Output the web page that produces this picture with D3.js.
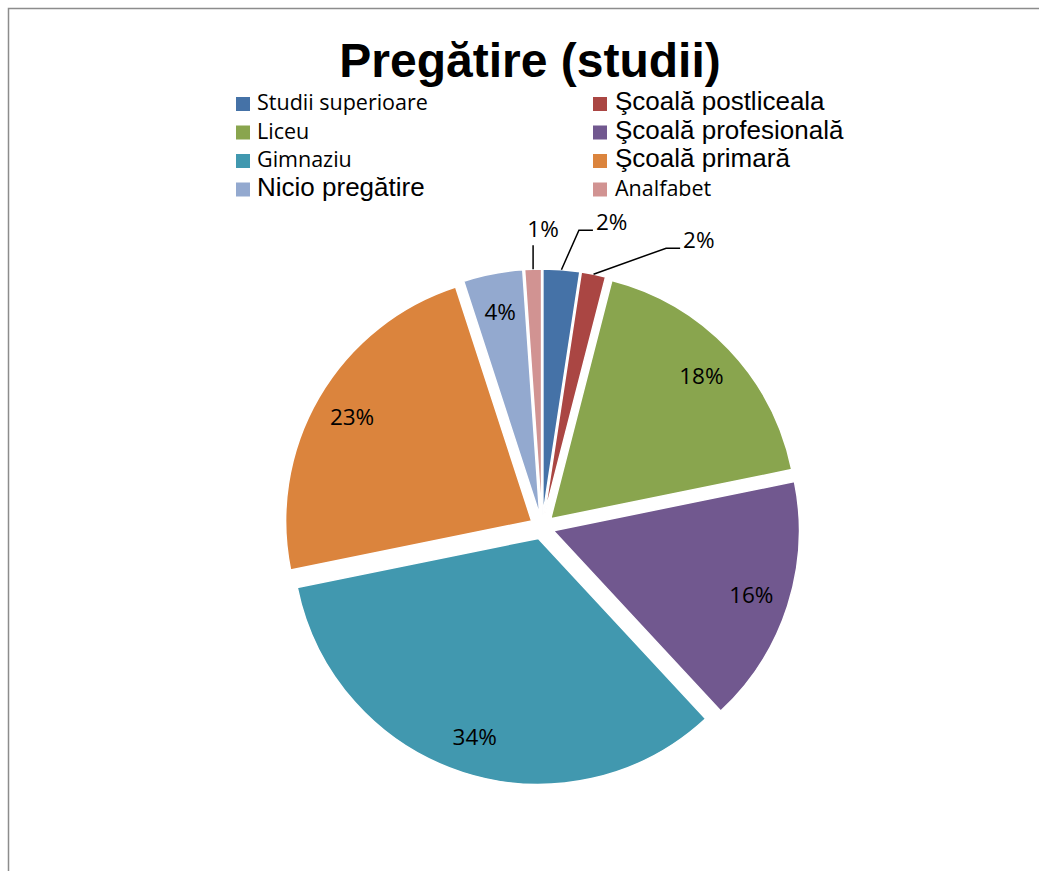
<!DOCTYPE html>
<html>
<head>
<meta charset="utf-8">
<script src="https://cdn.jsdelivr.net/npm/d3@7"></script>
<style>
  html, body { margin: 0; padding: 0; background: #fff; }
  svg { display: block; }
</style>
</head>
<body>
<div id="chart"></div>
<script>
// values (percent of total)
const categories = ['Studii superioare', 'Şcoală postliceala', 'Liceu', 'Şcoală profesională',
  'Gimnaziu', 'Şcoală primară', 'Nicio pregătire', 'Analfabet'];
const values = [2.4, 1.6, 17.8, 16.3, 33.7, 23.2, 3.9, 1.1];
const colors = ['#4572A7', '#AA4643', '#89A54E', '#71588F', '#4198AF', '#DB843D', '#93A9CF', '#D19392'];

// legend entries that were typed in a different (larger) font in the original
const bigLegend = [false, true, false, true, false, true, true, false];

// manually dragged data labels: offset from the slice's outer edge
const outsideLabels = {
  0: {dx: 34.5, dy: -39.6, type: 'side'},
  1: {dx: 89.6, dy: -26, type: 'side'},
  7: {dx: 10, dy: -32, type: 'above'}
};

const width = 1039, height = 871;
const cx = 542, cy = 527, radius = 246, explode = 12;

const svg = d3.select('#chart').append('svg')
  .attr('width', width)
  .attr('height', height);

// chart frame (only top/left edges visible)
svg.append('rect')
  .attr('x', 8.5).attr('y', 8.5)
  .attr('width', 1100).attr('height', 1000)
  .attr('fill', 'none')
  .attr('stroke', '#8c8c8c')
  .attr('stroke-width', 1.5);

svg.append('text')
  .attr('x', 530).attr('y', 77)
  .attr('text-anchor', 'middle')
  .style('font-family', '"Liberation Sans", Arial, sans-serif')
  .style('font-weight', 'bold')
  .style('font-size', '48px')
  .text('Pregătire (studii)');

// legend, two columns filled row by row
const legend = svg.append('g');
categories.forEach((name, i) => {
  const col = i % 2, row = Math.floor(i / 2);
  const x = col === 0 ? 236 : 593;
  const base = 110 + row * 28.5;
  legend.append('rect')
    .attr('x', x).attr('y', base - 13)
    .attr('width', 14).attr('height', 14)
    .attr('fill', colors[i]);
  legend.append('text')
    .attr('x', x + (col === 0 ? 21 : 22)).attr('y', base)
    .style('font-family', bigLegend[i] ? '"Liberation Sans", Arial, sans-serif' : '"Open Sans", sans-serif')
    .style('font-size', bigLegend[i] ? '26px' : '21.5px')
    .text(name);
});

const total = d3.sum(values);
const pct = d3.format('.0%');

const pie = d3.pie().sort(null).value(d => d);
const arcs = pie(values);
const arc = d3.arc().innerRadius(0).outerRadius(radius);
const labelArc = d3.arc().innerRadius(radius * 0.845).outerRadius(radius * 0.845);

const g = svg.append('g').attr('transform', 'translate(' + cx + ',' + cy + ')');

function shift(d) {
  const mid = (d.startAngle + d.endAngle) / 2;
  return [explode * Math.sin(mid), -explode * Math.cos(mid)];
}

const slice = g.selectAll('g.slice')
  .data(arcs)
  .enter()
  .append('g')
  .attr('class', 'slice')
  .attr('transform', d => 'translate(' + shift(d) + ')');

slice.append('path')
  .attr('d', arc)
  .attr('fill', (d, i) => colors[i])
  .attr('stroke', '#fff')
  .attr('stroke-width', 1.5);

const labelFont = '"Open Sans", sans-serif';
const labelSize = '22.5px';

slice.each(function(d, i) {
  const sel = d3.select(this);
  const text = pct(d.data / total);
  const o = outsideLabels[i];
  if (!o) {
    const c = labelArc.centroid(d);
    sel.append('text')
      .attr('x', c[0]).attr('y', c[1])
      .attr('text-anchor', 'middle')
      .attr('dominant-baseline', 'central')
      .style('font-family', labelFont)
      .style('font-size', labelSize)
      .text(text);
    return;
  }
  const mid = (d.startAngle + d.endAngle) / 2;
  const px = radius * Math.sin(mid), py = -radius * Math.cos(mid);
  const tx = px + o.dx, ty = py + o.dy;
  let pts;
  if (o.type === 'side') {
    pts = [[px, py], [tx - 17, ty], [tx - 3, ty]];
    sel.append('text')
      .attr('x', tx).attr('y', ty)
      .style('font-family', labelFont)
      .style('font-size', labelSize)
      .text(text);
  } else {
    pts = [[px, py], [px, ty + 8]];
    sel.append('text')
      .attr('x', tx).attr('y', ty)
      .attr('text-anchor', 'middle')
      .style('font-family', labelFont)
      .style('font-size', labelSize)
      .text(text);
  }
  sel.append('path')
    .attr('d', d3.line()(pts))
    .attr('fill', 'none')
    .attr('stroke', '#000')
    .attr('stroke-width', 1.5);
});
</script>
</body>
</html>
